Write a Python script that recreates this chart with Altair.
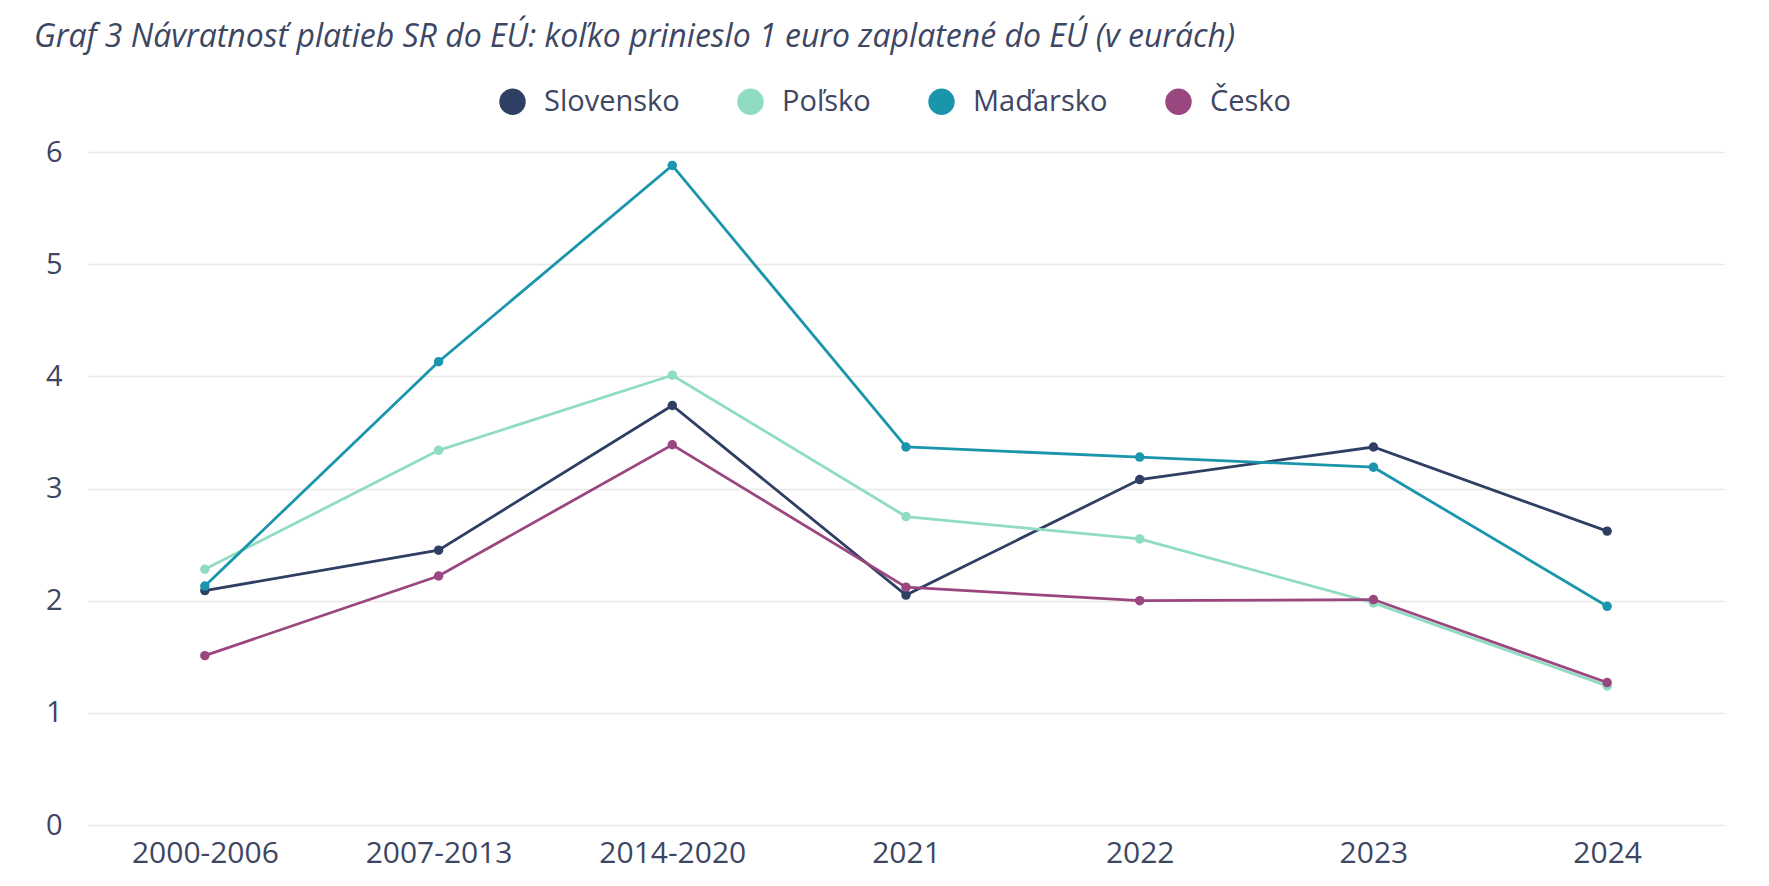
import altair as alt
import pandas as pd

periods = ["2000-2006", "2007-2013", "2014-2020", "2021", "2022", "2023", "2024"]
countries = ["Slovensko", "Poľsko", "Maďarsko", "Česko"]
colors = ["#2f3f63", "#8fdcc2", "#1a95ac", "#9a4780"]

slovensko = [2.09, 2.45, 3.74, 2.05, 3.08, 3.37, 2.62]
polsko = [2.28, 3.34, 4.01, 2.75, 2.55, 1.98, 1.24]
madarsko = [2.13, 4.13, 5.88, 3.37, 3.28, 3.19, 1.95]
cesko = [1.51, 2.22, 3.39, 2.12, 2.00, 2.01, 1.27]

series = {"Slovensko": slovensko, "Poľsko": polsko, "Maďarsko": madarsko, "Česko": cesko}
rows = []
for name in countries:
    for p, v in zip(periods, series[name]):
        rows.append({"obdobie": p, "krajina": name, "hodnota": v})
df = pd.DataFrame(rows)

FONT = "Open Sans"
TEXT = "#3d4663"

x = alt.X("obdobie:N", sort=periods, title=None,
          scale=alt.Scale(type="point", padding=0.5),
          axis=alt.Axis(labelAngle=0, labelFontSize=30, labelColor=TEXT, labelFont=FONT,
                        labelPadding=13, ticks=False, domain=False, grid=False))
y = alt.Y("hodnota:Q", title=None, scale=alt.Scale(domain=[0, 6], nice=False),
          axis=alt.Axis(values=[0, 1, 2, 3, 4, 5, 6], labelFontSize=29, labelColor=TEXT,
                        labelFont=FONT, labelPadding=26, ticks=False, domain=False,
                        gridColor="#e8e8e8", gridWidth=1.5))
color = alt.Color("krajina:N", sort=countries,
                  scale=alt.Scale(domain=countries, range=colors),
                  legend=alt.Legend(title=None, orient="none", direction="horizontal",
                                    legendX=410, legendY=-65, symbolType="circle",
                                    symbolSize=700, symbolStrokeWidth=0, labelFontSize=29,
                                    labelColor=TEXT, labelFont=FONT, columnPadding=56,
                                    labelOffset=17))

# one line + dots per country, drawn in legend order
layers = []
for name in countries:
    sub = alt.Chart(df[df.krajina == name]).encode(x=x, y=y, color=color)
    layers.append(sub.mark_line(strokeWidth=2.8))
    layers.append(sub.mark_circle(size=90, opacity=1))

chart = alt.layer(*layers).properties(
    width=1636,
    height=673,
    background="white",
    title=alt.Title(
        "Graf 3 Návratnosť platieb SR do EÚ: koľko prinieslo 1 euro zaplatené do EÚ (v eurách)",
        anchor="start", frame="group", dx=-54, offset=33, fontSize=32, fontStyle="italic",
        fontWeight="normal", font=FONT, color=TEXT),
    autosize=alt.AutoSizeParams(type="none"),
    padding={"left": 88, "top": 152, "right": 45, "bottom": 61},
).configure_view(stroke=None)

chart.save("out.html", embed_options={"renderer": "svg", "actions": False})
